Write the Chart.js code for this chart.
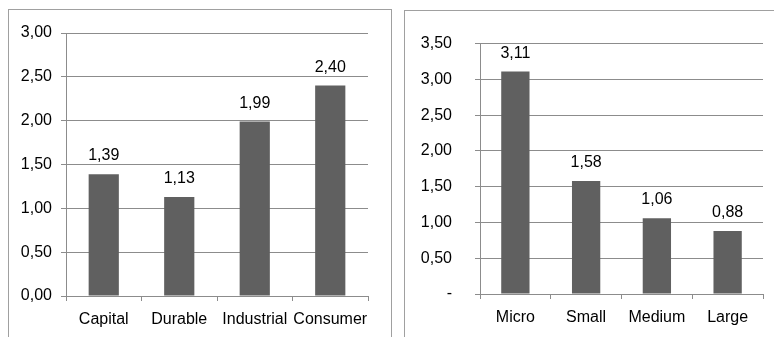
<!DOCTYPE html>
<html>
<head>
<meta charset="utf-8">
<script src="https://cdn.jsdelivr.net/npm/chart.js@4"></script>
<style>
  body { margin: 0; background: #fff; width: 774px; height: 337px; overflow: hidden; position: relative; }
  .box { position: absolute; border: 1px solid #a0a0a0; box-sizing: border-box; height: 360px; }
  canvas { position: absolute; }
</style>
</head>
<body>
<div class="box" style="left:8px; top:9px; width:384px;"></div>
<div class="box" style="left:404px; top:10px; width:400px;"></div>
<canvas id="leftChart" width="382" height="327" style="left:9px; top:10px;"></canvas>
<canvas id="rightChart" width="369" height="326" style="left:405px; top:11px;"></canvas>
<script>
// left: by industry type
const sectorLabels = ['Capital', 'Durable', 'Industrial', 'Consumer'];
const sectorValues = [1.39, 1.13, 1.99, 2.40];
const sectorTicks = ['0,00', '0,50', '1,00', '1,50', '2,00', '2,50', '3,00'];

// right: by firm size
const sizeLabels = ['Micro', 'Small', 'Medium', 'Large'];
const sizeValues = [3.11, 1.58, 1.06, 0.88];
const sizeTicks = ['-', '0,50', '1,00', '1,50', '2,00', '2,50', '3,00', '3,50'];

Chart.defaults.font.family = "'Liberation Sans', Arial, sans-serif";
Chart.defaults.font.size = 16;
Chart.defaults.color = '#000';

const GRID = '#8c8c8c';
const BAR = '#606060';

// values above bars, written with decimal comma
const valueLabels = {
  id: 'valueLabels',
  afterDatasetsDraw(chart) {
    const c = chart.ctx;
    const meta = chart.getDatasetMeta(0);
    const vals = chart.data.datasets[0].data;
    c.save();
    c.font = "16px 'Liberation Sans', Arial, sans-serif";
    c.fillStyle = '#000';
    c.textAlign = 'center';
    c.textBaseline = 'alphabetic';
    meta.data.forEach((bar, i) => {
      c.fillText(vals[i].toFixed(2).replace('.', ','), bar.x, bar.y - 14);
    });
    c.restore();
  }
};

function makeChart(id, labels, values, tickLabels, yMax, opts) {
  return new Chart(document.getElementById(id), {
    type: 'bar',
    data: {
      labels: labels,
      datasets: [{
        data: values,
        backgroundColor: BAR,
        borderWidth: 0,
        barPercentage: 0.4,
        categoryPercentage: 1
      }]
    },
    options: {
      responsive: false,
      animation: false,
      layout: { padding: { top: opts.top, right: opts.right, left: 0, bottom: 0 } },
      plugins: { legend: { display: false }, tooltip: { enabled: false } },
      scales: {
        x: {
          grid: { offset: true, drawOnChartArea: false, drawTicks: true, tickLength: 5, color: GRID },
          border: { color: GRID },
          ticks: { padding: 9, maxRotation: 0, autoSkip: false },
          afterFit: (s) => { s.height = opts.xHeight; }
        },
        y: {
          min: 0,
          max: yMax,
          grid: { color: GRID, tickLength: 5 },
          border: { color: GRID },
          ticks: {
            stepSize: 0.5,
            padding: opts.tickPad,
            callback: (v, i) => tickLabels[i]
          },
          afterFit: (s) => { s.width = opts.yWidth; }
        }
      }
    },
    plugins: [valueLabels]
  });
}

makeChart('leftChart', sectorLabels, sectorValues, sectorTicks, 3, { top: 23, right: 23, xHeight: 41, yWidth: 57, tickPad: 9 });
makeChart('rightChart', sizeLabels, sizeValues, sizeTicks, 3.5, { top: 25, right: 11, xHeight: 43, yWidth: 75, tickPad: 23 });
</script>
</body>
</html>
